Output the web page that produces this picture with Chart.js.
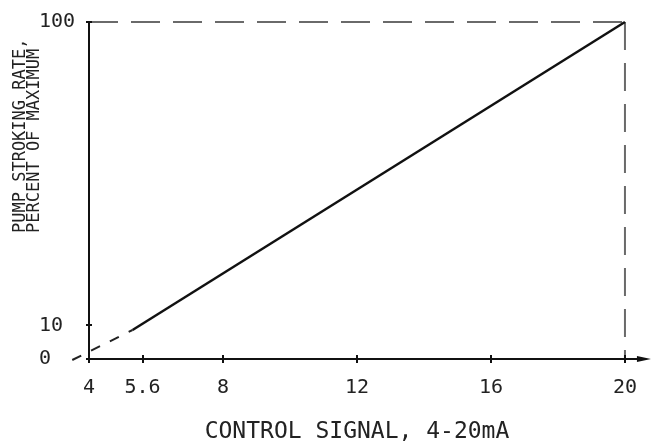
<!DOCTYPE html>
<html>
<head>
<meta charset="utf-8">
<script src="https://cdn.jsdelivr.net/npm/chart.js@4"></script>
<style>
  html, body { margin: 0; padding: 0; background: #fff; }
  #wrap { width: 654px; height: 444px; }
</style>
</head>
<body>
<div id="wrap"><canvas id="c" width="654" height="444"></canvas></div>
<script>
// ---- data ----
const xTicks = [4, 5.6, 8, 12, 16, 20];
const yTicks = [0, 10, 100];
const rampX = [5.3, 20];
const rampY = [8.6, 100];
const leadX = [3.5, 5.3];
const leadY = [-0.3, 8.6];
const capX = [4, 20];
const capY = [100, 100];
const dropX = [20, 20];
const dropY = [100, 0];
const xTitle = 'CONTROL SIGNAL, 4-20mA';
const yTitleLines = ['PUMP STROKING RATE,', 'PERCENT OF MAXIMUM'];

const MONO = '"DejaVu Sans Mono", "Liberation Mono", monospace';
const pts = (xs, ys) => xs.map((x, i) => ({ x, y: ys[i] }));

const decor = {
  id: 'decor',
  afterDraw(chart) {
    const { ctx, chartArea, scales } = chart;
    const xs = scales.x, ys = scales.y;
    ctx.save();
    ctx.strokeStyle = '#111';
    ctx.lineWidth = 2;
    // x axis continues past the last tick, ending in an arrow head
    const ax = chartArea.right, ay = chartArea.bottom;
    ctx.beginPath();
    ctx.moveTo(ax, ay);
    ctx.lineTo(ax + 14, ay);
    ctx.stroke();
    ctx.fillStyle = '#111';
    ctx.beginPath();
    ctx.moveTo(ax + 26, ay);
    ctx.lineTo(ax + 12, ay - 3);
    ctx.lineTo(ax + 12, ay + 3);
    ctx.closePath();
    ctx.fill();
    // crossing tick marks
    xs.ticks.forEach(t => {
      const px = Math.round(xs.getPixelForValue(t.value));
      ctx.beginPath();
      ctx.moveTo(px, chartArea.bottom - 4);
      ctx.lineTo(px, chartArea.bottom + 4);
      ctx.stroke();
    });
    ys.ticks.forEach(t => {
      const py = Math.round(ys.getPixelForValue(t.value));
      ctx.beginPath();
      ctx.moveTo(chartArea.left - 3, py);
      ctx.lineTo(chartArea.left + 3, py);
      ctx.stroke();
    });
    // y axis title (two lines, rotated, starting from the lower end)
    ctx.fillStyle = '#222';
    ctx.font = '17px ' + MONO;
    ctx.textAlign = 'left';
    ctx.textBaseline = 'middle';
    ctx.translate(21, 233);
    ctx.rotate(-Math.PI / 2);
    yTitleLines.forEach((line, i) => ctx.fillText(line, 0, i * 14));
    ctx.restore();
  }
};

new Chart(document.getElementById('c'), {
  type: 'line',
  data: {
    datasets: [
      { data: pts(rampX, rampY), borderColor: '#111', borderWidth: 2.5, pointRadius: 0, clip: false },
      { data: pts(leadX, leadY), borderColor: '#222', borderWidth: 2, borderDash: [10, 11], pointRadius: 0, clip: false },
      { data: pts(capX, capY), borderColor: '#6a6a6a', borderWidth: 2, borderDash: [29, 13], pointRadius: 0, clip: false },
      { data: pts(dropX, dropY), borderColor: '#6a6a6a', borderWidth: 2, borderDash: [28, 13], pointRadius: 0, clip: false }
    ]
  },
  options: {
    responsive: false,
    animation: false,
    events: [],
    layout: { padding: { left: 39, top: 22, right: 27, bottom: 0 } },
    plugins: { legend: { display: false }, tooltip: { enabled: false } },
    scales: {
      x: {
        type: 'linear', min: 4, max: 20,
        afterBuildTicks: s => { s.ticks = xTicks.map(v => ({ value: v })); },
        afterFit: s => { s.height = 85; },
        grid: { display: false, drawTicks: false },
        border: { display: true, color: '#111', width: 2 },
        ticks: { autoSkip: false, maxRotation: 0, padding: 17, color: '#222',
                 font: { family: MONO, size: 20 }, callback: v => String(v) },
        title: { display: true, text: xTitle, color: '#222', padding: { top: 0, bottom: 0 },
                 font: { family: MONO, size: 23, lineHeight: 1 } }
      },
      y: {
        type: 'linear', min: 0, max: 100,
        afterBuildTicks: s => { s.ticks = yTicks.map(v => ({ value: v })); },
        afterFit: s => { s.width = 50; },
        grid: { display: false, drawTicks: false },
        border: { display: true, color: '#111', width: 2 },
        ticks: { autoSkip: false, crossAlign: 'far', padding: 0, color: '#222',
                 font: { family: MONO, size: 20 }, callback: v => String(v) }
      }
    }
  },
  plugins: [decor]
});
</script>
</body>
</html>
